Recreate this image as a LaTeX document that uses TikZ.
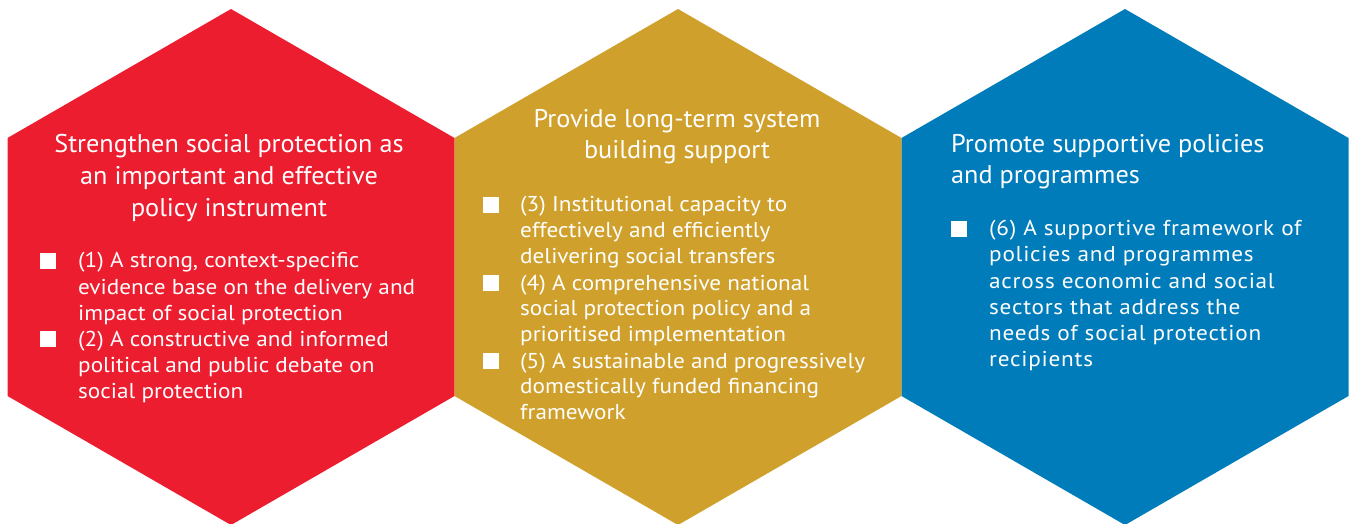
\documentclass[tikz,border=0pt]{standalone}
\usepackage{fontspec}
\setmainfont{PT Sans}
\newfontfamily\bodyfont[FakeStretch=1.08]{PT Sans}
\newfontfamily\bluebodyfont[FakeStretch=1.08,LetterSpace=3.5]{PT Sans}
\newfontfamily\titlefont[FakeStretch=1.025]{PT Sans}
\definecolor{hexred}{RGB}{236,29,47}
\definecolor{hexgold}{RGB}{208,160,44}
\definecolor{hexblue}{RGB}{1,124,186}
\newcommand\leftlines[2]{\vtop{\baselineskip=#1\lineskiplimit=-100bp\lineskip=0pt\halign{##\hfil\cr#2\crcr}}}
\newcommand\centerlines[2]{\vtop{\baselineskip=#1\lineskiplimit=-100bp\lineskip=0pt\halign{\hfil##\hfil\cr#2\crcr}}}
\newcommand\hexpath[1]{(#1,9) -- ++(223.5,129) -- ++(0,258) -- ++(-223.5,129) -- ++(-223.5,-129) -- ++(0,-258) -- cycle}
\tikzset{
  bodytext/.style={text=white, inner sep=0pt, anchor=base west, font=\bodyfont\fontsize{21.5bp}{26bp}\selectfont},
  bluetext/.style={bodytext, font=\bluebodyfont\fontsize{21.5bp}{26bp}\selectfont},
  titletext/.style={text=white, inner sep=0pt, font=\titlefont\fontsize{25.6bp}{32bp}\selectfont},
  bulletsq/.style={fill=white, draw=none, inner sep=0pt, minimum size=16bp},
}
\begin{document}
\begin{tikzpicture}[x=1bp,y=-1bp]
\useasboundingbox (0,0) rectangle (1349,524);
% hexagons
\fill[hexred] \hexpath{231};
\fill[hexgold] \hexpath{678};
\fill[hexblue] \hexpath{1125};
% red
\node[titletext, anchor=base] (rt) at (229,153) {\centerlines{32bp}{Strengthen social protection as\cr an important and effective\cr policy instrument}};
\node[bulletsq] (rb1) at (48,261) {};
\node[bodytext] (r1) at (78,268) {\leftlines{26bp}{(1) A strong, context-specific\cr evidence base on the delivery and\cr impact of social protection}};
\node[bulletsq] (rb2) at (48,339) {};
\node[bodytext] (r2) at (78,346) {\leftlines{26bp}{(2) A constructive and informed\cr political and public debate on\cr social protection}};
% gold
\node[titletext, anchor=base] (gt) at (677,128) {\centerlines{31bp}{Provide long-term system\cr building support}};
\node[bulletsq] (gb1) at (491,205) {};
\node[bodytext] (g1) at (520,212) {\leftlines{25.9bp}{(3) Institutional capacity to\cr effectively and efficiently\cr delivering social transfers}};
\node[bulletsq] (gb2) at (491,283) {};
\node[bodytext] (g2) at (520,290) {\leftlines{25.9bp}{(4) A comprehensive national\cr social protection policy and a\cr prioritised implementation}};
\node[bulletsq] (gb3) at (491,361) {};
\node[bodytext] (g3) at (520,368) {\leftlines{25.9bp}{(5) A sustainable and progressively\cr domestically funded financing\cr framework}};
% blue
\node[titletext, anchor=base west] (bt) at (951,153) {\leftlines{31bp}{Promote supportive policies\cr and programmes}};
\node[bulletsq] (bb1) at (959,229) {};
\node[bluetext] (b1) at (989,236) {\leftlines{26bp}{(6) A supportive framework of\cr policies and programmes\cr across economic and social\cr sectors that address the\cr needs of social protection\cr recipients}};
\end{tikzpicture}
\end{document}
